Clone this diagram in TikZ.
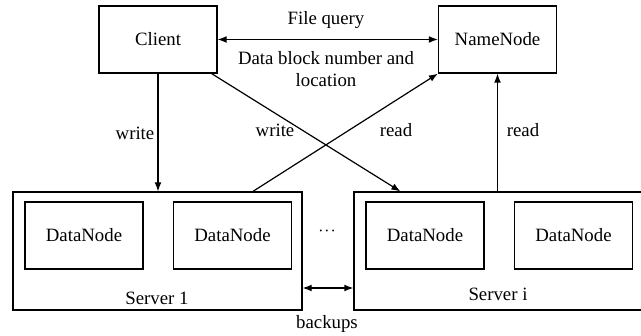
\documentclass[tikz,border=0pt]{standalone}
\usepackage{fontspec}
\setmainfont{Liberation Serif}
\usetikzlibrary{arrows.meta,calc}

\begin{document}
\begin{tikzpicture}[x=0.5pt,y=-0.5pt,
	box/.style={draw,line width=0.6pt,minimum width=59pt,minimum height=33.5pt,inner sep=0pt},
	server/.style={draw,line width=0.6pt,minimum width=144.5pt,minimum height=59pt,inner sep=0pt},
	link/.style={line width=0.6pt,-{Latex[length=4.5pt,width=3.4pt]}},
	twoway/.style={line width=0.6pt,{Latex[length=4.5pt,width=3.4pt]}-{Latex[length=4.5pt,width=3.4pt]}},
	lbl/.style={font=\fontsize{9.4}{11}\selectfont,inner sep=0pt,align=center}]
	\useasboundingbox (0,0) rectangle (641,336);
	
	% Top row
	\node[box,lbl] (client) at (158,39.5) {Client};
	\node[box,lbl] (namenode) at (497.5,39.5) {NameNode};
	
	% Servers with their DataNodes
	\node[server] (srv1) at (157.5,251) {};
	\node[server] (srvi) at (498.5,251) {};
	\node[box,lbl] (dn1) at (84,235.5) {DataNode};
	\node[box,lbl] (dn2) at (232.5,235.5) {DataNode};
	\node[box,lbl] (dn3) at (425,235.5) {DataNode};
	\node[box,lbl] (dn4) at (573.5,235.5) {DataNode};
	\node[lbl] (srv1lbl) at (157,298) {Server 1};
	\node[lbl] (srvilbl) at (498,294) {Server i};
	\node[lbl] (dots) at (327,231) {$\cdot\!\cdot\!\cdot$};
	
	% Query between client and namenode
	\draw[twoway] (client.east) -- (namenode.west);
	\node[lbl] (query) at (326,20) {File query};
	\node[lbl] (answer) at (326,69) {Data block number and\\location};
	
	% Write and read paths
	\draw[link] (client.south) -- (client.south |- srv1.north);
	\draw[link] ($(client.south east)+(-6,0)$) -- ($(srvi.north west)+(47,0)$);
	\draw[link] ($(srv1.north west)+(240.5,0)$) -- (namenode.south west);
	\draw[link] (srvi.north -| namenode.south) -- (namenode.south);
	\node[lbl] (w1) at (135,133) {write};
	\node[lbl] (w2) at (275,130) {write};
	\node[lbl] (r1) at (396,130) {read};
	\node[lbl] (r2) at (523,130) {read};
	
	% Backups between servers
	\coordinate (b1) at ($(srv1.east)+(0,37)$);
	\coordinate (b2) at ($(srvi.west)+(0,37)$);
	\draw[twoway] (b1) -- (b2);
	\node[lbl] (backups) at (327,324) {backups};
	
\end{tikzpicture}
\end{document}
